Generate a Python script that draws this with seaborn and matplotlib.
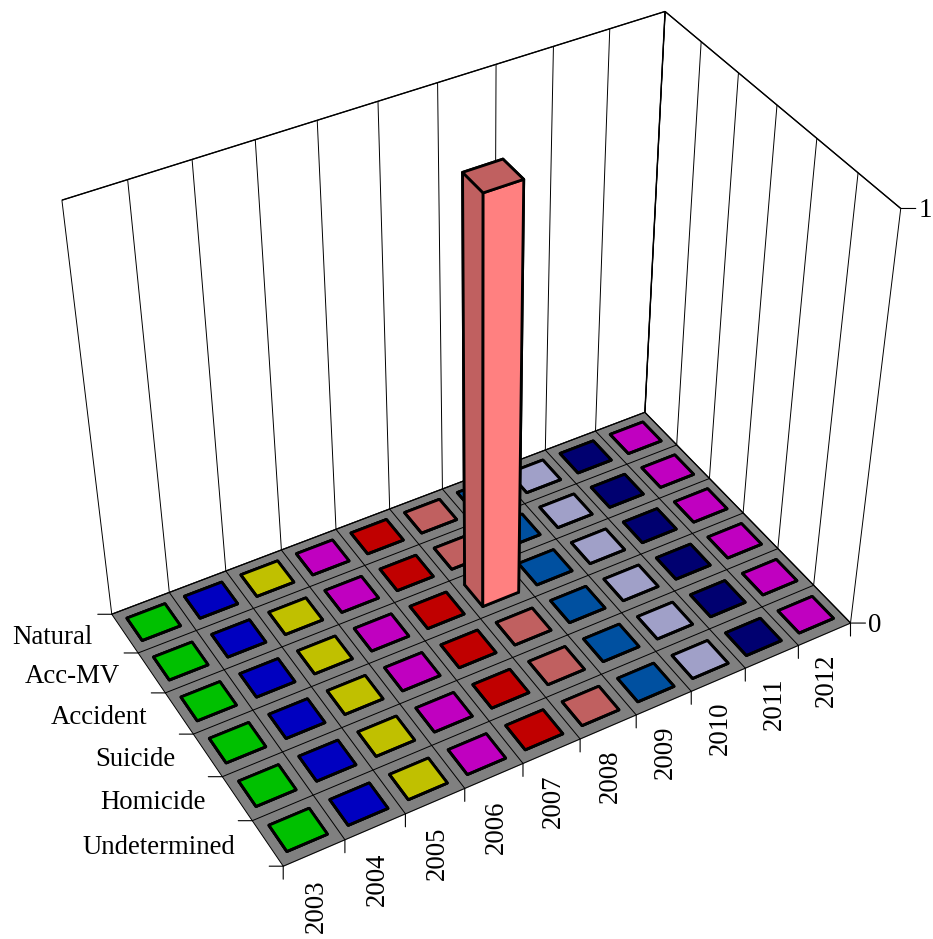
import numpy as np
import matplotlib
matplotlib.use("Agg")
import matplotlib.pyplot as plt
import seaborn as sns
from mpl_toolkits.mplot3d import proj3d

years = [2003, 2004, 2005, 2006, 2007, 2008, 2009, 2010, 2011, 2012]
causes = ["Undetermined", "Homicide", "Suicide", "Accident", "Acc-MV", "Natural"]
year_colors = ["#00C000", "#0000C0", "#C0C000", "#C000C0", "#C00000",
               "#C06060", "#0050A0", "#A0A0C8", "#000070", "#C000C0"]
values = {2008: {"Accident": 1}}
z_ticks = [0, 1]

W, H = 933, 939
sns.set_theme(style="white")
plt.rcParams["font.family"] = ["Liberation Serif", "DejaVu Sans"]
plt.rcParams["text.color"] = "black"

fig = plt.figure(figsize=(W / 100, H / 100), dpi=100)
ax = fig.add_axes([1.37 / W, 32.26 / H, 1, 1], projection="3d")
ax.set_xlim(0, len(years))
ax.set_ylim(0, len(causes))
ax.set_zlim(0, 1)

# camera found by fitting the box corners to the picture
ax.view_init(elev=39.95, azim=-119.99)
ax.set_proj_type("persp", focal_length=0.54)
ax.set_box_aspect((8.295, 4.978, 6.628), zoom=0.991)

ax.computed_zorder = False
ax.set_xticks(range(len(years) + 1))
ax.set_yticks(range(len(causes) + 1))
ax.set_zticks(z_ticks)
ax.set_xticklabels([])
ax.set_yticklabels([])
ax.set_zticklabels([])
ax.tick_params(color="none", length=0)
ax.grid(True)
for axis in (ax.xaxis, ax.yaxis, ax.zaxis):
    axis.line.set_color("none")
    axis._axinfo["grid"].update(color="black", linewidth=0.7)
    axis.set_pane_color((1, 1, 1, 1))
    axis.pane.set_edgecolor("black")
    axis.pane.set_linewidth(1.0)
ax.zaxis.set_pane_color((0.5, 0.5, 0.5, 1))

palette = sns.color_palette(year_colors)
for i, year in enumerate(years):
    for j, cause in enumerate(causes):
        v = values.get(year, {}).get(cause, 0)
        base = np.array(palette[i])
        light = np.clip(base * 4 / 3, 0, 1)
        # faces: bottom, top, front, back, left, right
        faces = [base, base, light, base, base, light]
        ax.bar3d(i + 0.17, j + 0.22, 0, 0.66, 0.58, v, color=faces, shade=False,
                 edgecolor="black", linewidth=2, zorder=3 if v else 2)

M = ax.get_proj()


def anchor(x, y, z):
    xs, ys, _ = proj3d.proj_transform(x, y, z, M)
    return (xs, ys)


def tick(x, y, z, ox, oy):
    ax.annotate("", xy=anchor(x, y, z), xytext=(ox, oy), textcoords="offset pixels",
                annotation_clip=False,
                arrowprops=dict(arrowstyle="-", color="black", lw=0.8, shrinkA=0, shrinkB=0))


def label(x, y, z, s, ox, oy, **kw):
    ax.annotate(s, xy=anchor(x, y, z), xytext=(ox, oy), textcoords="offset pixels",
                annotation_clip=False, fontsize=19.3, color="black", **kw)


for i in range(len(years) + 1):
    tick(i, 0, 0, 0, -13)
for j in range(len(causes) + 1):
    tick(0, j, 0, -14, 0)
for z in z_ticks:
    tick(len(years), 0, z, 15, 0)
    label(len(years), 0, z, str(z), 18, -2, ha="left", va="center")
for i, year in enumerate(years):
    label(i + 0.5, 0, 0, str(year), 2, -(27 - 0.8 * i), rotation=90, ha="center", va="top")
for j, cause in enumerate(causes):
    label(0, j + 0.5, 0, cause, -32, -4, ha="right", va="center")

fig.savefig("out.png", dpi=100)
